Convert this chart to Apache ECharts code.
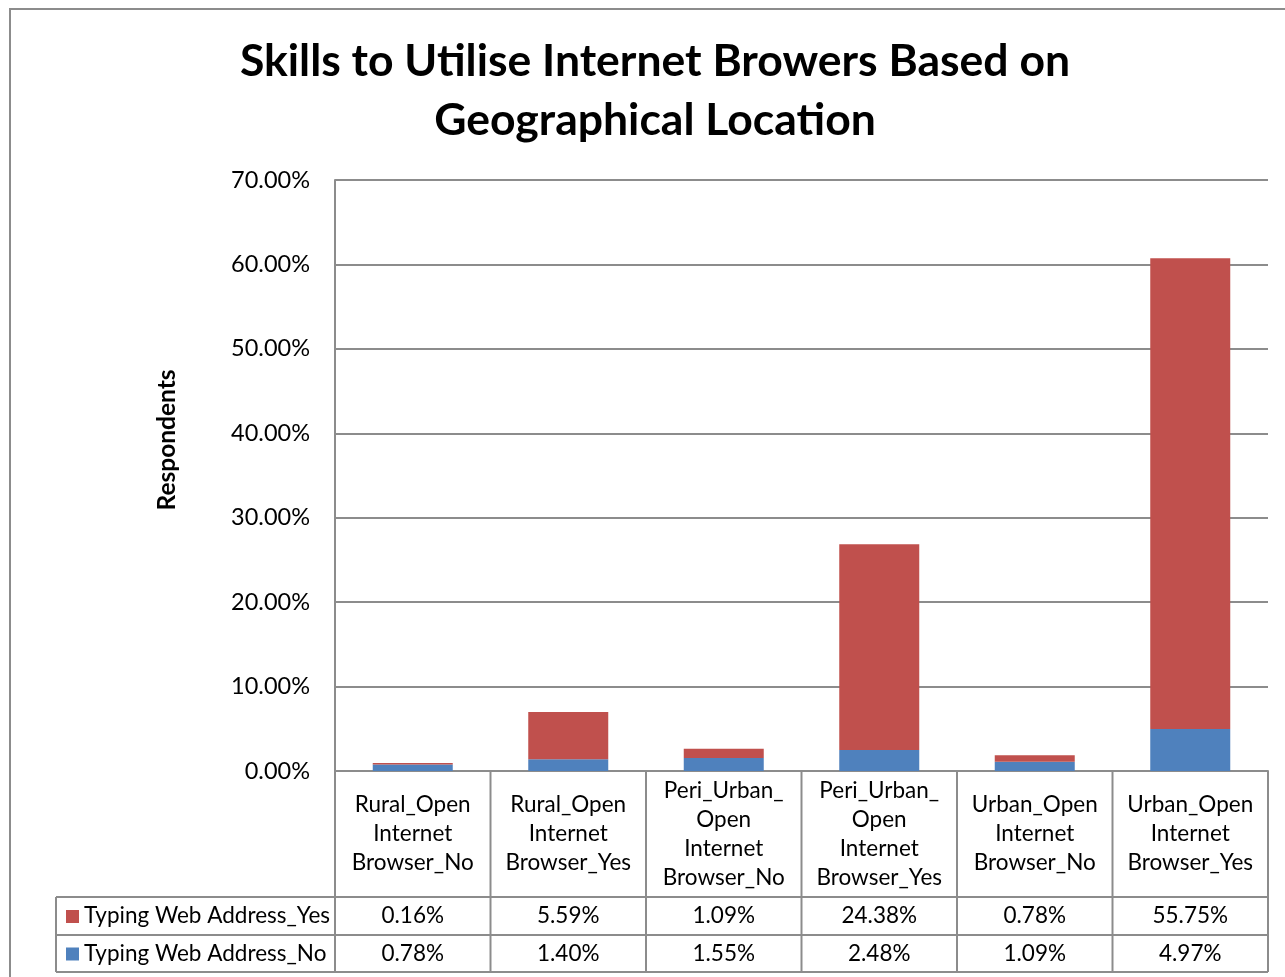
<!DOCTYPE html>
<html>
<head>
<meta charset="utf-8">
<script src="https://cdn.jsdelivr.net/npm/echarts@6/dist/echarts.min.js"></script>
<style>
  html, body { margin: 0; padding: 0; background: #fff; }
  #chart { width: 1285px; height: 977px; }
</style>
</head>
<body>
<div id="chart"></div>
<script>
// Category labels (wrapped as shown in the table header row)
const categories = [
  'Rural_Open\nInternet\nBrowser_No',
  'Rural_Open\nInternet\nBrowser_Yes',
  'Peri_Urban_\nOpen\nInternet\nBrowser_No',
  'Peri_Urban_\nOpen\nInternet\nBrowser_Yes',
  'Urban_Open\nInternet\nBrowser_No',
  'Urban_Open\nInternet\nBrowser_Yes'
];
const seriesYesName = 'Typing Web Address_Yes';
const seriesNoName = 'Typing Web Address_No';
const yesValues = [0.16, 5.59, 1.09, 24.38, 0.78, 55.75];
const noValues = [0.78, 1.40, 1.55, 2.48, 1.09, 4.97];
const yMax = 70;
const yStep = 10;

const FONT = 'Lato, "Open Sans", sans-serif';
const RED = '#C0504D';
const BLUE = '#4F81BD';
const LINE = '#8c8c8c';

const chart = echarts.init(document.getElementById('chart'), null, { renderer: 'canvas' });

const fmt = v => v.toFixed(2) + '%';

chart.setOption({
  animation: false,
  title: {
    text: 'Skills to Utilise Internet Browers Based on\nGeographical Location',
    left: 650,
    top: 27,
    textAlign: 'center',
    textStyle: { fontFamily: FONT, fontWeight: 'bold', fontSize: 44.5, lineHeight: 59, color: '#000' }
  },
  grid: { left: 335, right: 17, top: 180, bottom: 206, containLabel: false },
  xAxis: {
    type: 'category',
    data: categories,
    axisLine: { show: true, lineStyle: { color: LINE, width: 2 } },
    axisTick: { show: false },
    axisLabel: { show: false }
  },
  yAxis: {
    type: 'value',
    min: 0,
    max: yMax,
    interval: yStep,
    axisLine: { show: true, lineStyle: { color: LINE, width: 2 } },
    axisTick: { show: false },
    axisLabel: { formatter: v => fmt(v), fontFamily: FONT, fontSize: 23.5, color: '#000', margin: 25 },
    splitLine: { show: true, lineStyle: { color: LINE, width: 2 } }
  },
  series: [
    { name: seriesNoName, type: 'bar', stack: 'total', data: noValues, barWidth: 80, itemStyle: { color: BLUE } },
    { name: seriesYesName, type: 'bar', stack: 'total', data: yesValues, barWidth: 80, itemStyle: { color: RED } }
  ]
});

// Data table under the plot, laid out from the category axis positions
function buildTable() {
  const n = categories.length;
  const c0 = chart.convertToPixel({ xAxisIndex: 0 }, 0);
  const c1 = chart.convertToPixel({ xAxisIndex: 0 }, 1);
  const band = c1 - c0;
  const yZero = chart.convertToPixel({ yAxisIndex: 0 }, 0);
  const headerBottom = yZero + 126;
  const row1Bottom = headerBottom + 38;
  const row2Bottom = row1Bottom + 37;
  const legendLeft = 56;
  const tableLeft = c0 - band / 2;
  const tableRight = tableLeft + band * n;

  const lineStyle = { stroke: LINE, lineWidth: 2 };
  const els = [];
  const hline = (x1, x2, y) => els.push({ type: 'line', shape: { x1, y1: y, x2, y2: y }, style: lineStyle, silent: true });
  const vline = (x, y1, y2) => els.push({ type: 'line', shape: { x1: x, y1, x2: x, y2 }, style: lineStyle, silent: true });

  for (let i = 0; i <= n; i++) vline(tableLeft + band * i, yZero, row2Bottom);
  hline(legendLeft, tableRight, headerBottom);
  hline(legendLeft, tableRight, row1Bottom);
  hline(legendLeft, tableRight, row2Bottom);
  vline(legendLeft, headerBottom, row2Bottom);

  const txt = (x, y, text, align) => els.push({
    type: 'text', x, y, silent: true,
    style: { text, fontFamily: FONT, fontSize: 22.5, lineHeight: 29, fill: '#000', align: align || 'center', verticalAlign: 'middle' }
  });

  const headerMid = (yZero + headerBottom) / 2;
  const row1Mid = (headerBottom + row1Bottom) / 2;
  const row2Mid = (row1Bottom + row2Bottom) / 2;
  for (let i = 0; i < n; i++) {
    const cx = chart.convertToPixel({ xAxisIndex: 0 }, i);
    txt(cx, headerMid, categories[i]);
    txt(cx, row1Mid, fmt(yesValues[i]));
    txt(cx, row2Mid, fmt(noValues[i]));
  }

  // Legend keys and series names in the first column
  const key = (y, color) => els.push({ type: 'rect', shape: { x: 66, y: y - 6, width: 13, height: 13 }, style: { fill: color }, silent: true });
  key(row1Mid, RED);
  key(row2Mid, BLUE);
  txt(84, row1Mid, seriesYesName, 'left');
  txt(84, row2Mid, seriesNoName, 'left');

  // Y axis title
  els.push({
    type: 'text', x: 167, y: 440, rotation: Math.PI / 2, silent: true,
    style: { text: 'Respondents', fontFamily: FONT, fontSize: 24.5, fontWeight: 'bold', fill: '#000', align: 'center', verticalAlign: 'middle' }
  });

  // Chart area border
  els.push({ type: 'rect', shape: { x: 10, y: 9, width: 1300, height: 1000 }, style: { fill: 'none', stroke: LINE, lineWidth: 2 }, silent: true });

  chart.setOption({ graphic: { elements: els } });
}
buildTable();
</script>
</body>
</html>
